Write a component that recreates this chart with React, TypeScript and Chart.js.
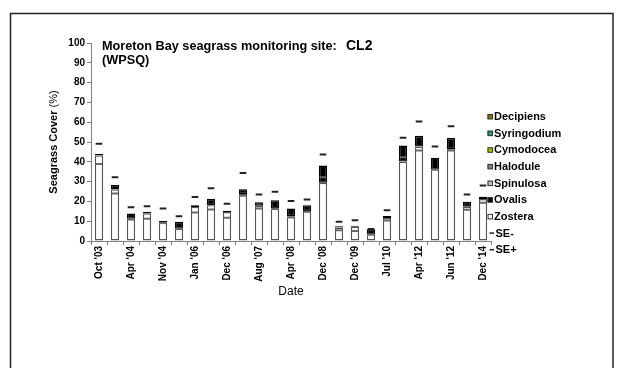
import React, { useEffect, useRef } from "react";
import { Chart, registerables } from "chart.js";

Chart.register(...registerables);

const FONT = "'Liberation Sans', Arial, sans-serif";

const dates = [
  "Oct '03", "Jan '04", "Apr '04", "Jul '04", "Nov '04", "Jun '05", "Jan '06",
  "Jun '06", "Dec '06", "Feb '07", "Aug '07", "Nov '07", "Apr '08", "Aug '08",
  "Dec '08", "Jun '09", "Dec '09", "Mar '10", "Jul '10", "Nov '11", "Apr '12",
  "May '12", "Jun '12", "Dec '13", "Dec '14",
];

const zostera = [
  43.2, 26.1, 11.2, 14.0, 9.2, 6.3, 17.2, 18.1, 14.6, 23.8, 17.8, 16.4, 12.5,
  15.1, 29.4, 6.8, 7.2, 3.3, 11.6, 40.1, 47.7, 36.2, 46.4, 17.3, 21.2,
];
const ovalis = [
  0.8, 2.2, 2.7, 0.6, 0.9, 3.4, 0.8, 3.2, 0.7, 2.3, 1.8, 4.2, 3.9,
  3.0, 8.7, 0.6, 0.5, 2.6, 1.0, 8.1, 5.4, 5.9, 5.6, 2.5, 1.1,
];
const spinulosa: number[] = [];
const halodule: number[] = [];
const cymodocea: number[] = [];
const syringodium: number[] = [];
const decipiens: number[] = [];

const seMinus = [
  38.9, 24.0, 10.8, 11.2, 9.1, 6.3, 14.4, 15.9, 11.8, 22.9, 16.4, 16.1, 11.9,
  14.8, 32.2, 5.4, 5.0, 3.4, 10.3, 42.3, 45.7, 36.3, 45.7, 15.8, 19.3,
];
const sePlus = [
  49.1, 32.2, 17.0, 17.6, 16.4, 12.5, 22.2, 26.6, 18.8, 34.4, 23.5, 24.9, 20.2,
  21.0, 43.7, 9.7, 10.5, 6.1, 15.5, 52.1, 60.3, 47.7, 57.9, 23.5, 28.0,
];

const yTicks = [0, 10, 20, 30, 40, 50, 60, 70, 80, 90, 100];

const decorPlugin = {
  id: "decor",
  afterDraw(chart: any) {
    const ctx = chart.ctx as CanvasRenderingContext2D;
    const area = chart.chartArea;
    ctx.save();

    // outer frame
    ctx.strokeStyle = "#222";
    ctx.lineWidth = 1.5;
    ctx.strokeRect(10.5, 13.5, 602.5, 400);

    // title
    ctx.fillStyle = "#000";
    ctx.textBaseline = "middle";
    ctx.textAlign = "left";
    ctx.font = `bold 12.7px ${FONT}`;
    ctx.fillText("Moreton Bay seagrass monitoring site:", area.left + 11, 46);
    ctx.fillText("(WPSQ)", area.left + 11, 60);
    ctx.font = `bold 14px ${FONT}`;
    ctx.fillText("CL2", area.left + 255, 46);

    // y title
    const cy = (area.top + area.bottom) / 2;
    ctx.save();
    ctx.translate(54, cy);
    ctx.rotate(-Math.PI / 2);
    ctx.font = `bold 11px ${FONT}`;
    const p1 = "Seagrass Cover ";
    const w1 = ctx.measureText(p1).width;
    ctx.font = `11px ${FONT}`;
    const p2 = "(%)";
    const w2 = ctx.measureText(p2).width;
    const start = -(w1 + w2) / 2;
    ctx.font = `bold 11px ${FONT}`;
    ctx.fillText(p1, start, 0);
    ctx.font = `11px ${FONT}`;
    ctx.fillText(p2, start + w1, 0);
    ctx.restore();

    // x title
    ctx.font = `12px ${FONT}`;
    ctx.textAlign = "center";
    ctx.fillText("Date", (area.left + area.right) / 2, 292);

    // legend
    ctx.textAlign = "left";
    ctx.font = `bold 11px ${FONT}`;
    const ds = chart.data.datasets;
    const bars = ds.filter((d: any) => d.type !== "line").slice().reverse();
    const lines = ds.filter((d: any) => d.type === "line");
    let y = 116.5;
    const step = 16.65;
    const bx = area.right - 3.5;
    for (const d of bars) {
      ctx.fillStyle = d.backgroundColor;
      ctx.fillRect(bx, y - 2.5, 5, 5);
      ctx.strokeStyle = "#333";
      ctx.lineWidth = 1;
      ctx.strokeRect(bx + 0.5, y - 2.5 + 0.5, 4.5, 4.5);
      ctx.fillStyle = "#000";
      ctx.fillText(d.label, bx + 6.5, y + 0.5);
      y += step;
    }
    for (const d of lines) {
      ctx.strokeStyle = "#222";
      ctx.lineWidth = 1.5;
      ctx.beginPath();
      ctx.moveTo(bx + 2, y);
      ctx.lineTo(bx + 6.5, y);
      ctx.stroke();
      ctx.fillStyle = "#000";
      ctx.fillText(d.label, bx + 8, y + 0.5);
      y += step;
    }
    ctx.restore();
  },
};

export default function App() {
  const ref = useRef<HTMLCanvasElement | null>(null);

  useEffect(() => {
    if (!ref.current) return;
    Chart.defaults.font.family = FONT;
    const barCommon = {
      borderColor: "#555",
      borderWidth: 1.4,
      borderSkipped: false,
      barPercentage: 0.52,
      categoryPercentage: 1,
      order: 2,
      stack: "cover",
    };
    const chart = new Chart(ref.current, {
      type: "bar",
      data: {
        labels: dates,
        datasets: [
          { ...barCommon, label: "Zostera", data: zostera, backgroundColor: "#ffffff" },
          { ...barCommon, label: "Ovalis", data: ovalis, backgroundColor: "#000000", borderColor: "#000" },
          { ...barCommon, label: "Spinulosa", data: spinulosa, backgroundColor: "#c0c0c0" },
          { ...barCommon, label: "Halodule", data: halodule, backgroundColor: "#808080" },
          { ...barCommon, label: "Cymodocea", data: cymodocea, backgroundColor: "#99cc00" },
          { ...barCommon, label: "Syringodium", data: syringodium, backgroundColor: "#339966" },
          { ...barCommon, label: "Decipiens", data: decipiens, backgroundColor: "#807000" },
          {
            type: "line",
            label: "SE-",
            data: seMinus,
            stack: "seMinus",
            showLine: false,
            pointStyle: "line",
            pointRadius: 3.3,
            pointHoverRadius: 3.3,
            pointBorderWidth: 2,
            borderColor: "#6a6a6a",
            pointBorderColor: "#6a6a6a",
            backgroundColor: "#6a6a6a",
            order: 0,
          },
          {
            type: "line",
            label: "SE+",
            data: sePlus,
            stack: "sePlus",
            showLine: false,
            pointStyle: "line",
            pointRadius: 3.3,
            pointHoverRadius: 3.3,
            pointBorderWidth: 2,
            borderColor: "#222",
            pointBorderColor: "#222",
            backgroundColor: "#222",
            order: 0,
          },
        ] as any,
      },
      options: {
        responsive: false,
        animation: false,
        events: [],
        layout: { padding: { left: 0, right: 134, top: 43, bottom: 0 } },
        plugins: {
          legend: { display: false },
          tooltip: { enabled: false },
          title: { display: false },
        },
        scales: {
          x: {
            stacked: true,
            offset: true,
            grid: {
              display: true,
              offset: true,
              drawOnChartArea: false,
              drawTicks: true,
              tickLength: 4,
              color: "#808080",
            },
            border: { display: true, color: "#808080", width: 1 },
            ticks: {
              autoSkip: false,
              minRotation: 90,
              maxRotation: 90,
              padding: 1,
              color: "#000",
              font: { family: FONT, size: 10, weight: "bold" },
              callback: (_v: any, i: number) => (i % 2 === 0 ? dates[i] : ""),
            },
            afterFit: (s: any) => {
              s.height = 127;
            },
          },
          y: {
            stacked: true,
            min: yTicks[0],
            max: yTicks[yTicks.length - 1],
            grid: {
              display: true,
              drawOnChartArea: false,
              drawTicks: true,
              tickLength: 4,
              color: "#808080",
            },
            border: { display: true, color: "#808080", width: 1 },
            ticks: {
              stepSize: 10,
              padding: 2,
              color: "#000",
              font: { family: FONT, size: 10, weight: "bold" },
            },
            afterFit: (s: any) => {
              s.width = 91;
            },
          },
        },
      } as any,
      plugins: [decorPlugin],
    });
    return () => chart.destroy();
  }, []);

  return (
    <div style={{ position: "fixed", left: 0, top: 0, width: 625, height: 368, background: "#fff" }}>
      <canvas ref={ref} width={625} height={368} style={{ display: "block" }} />
    </div>
  );
}
